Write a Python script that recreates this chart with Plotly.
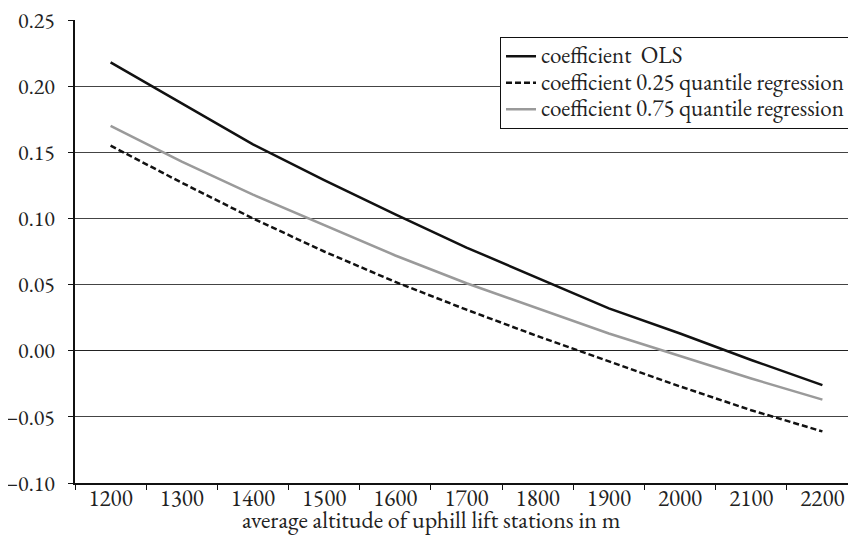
import plotly.graph_objects as go

categories = ["1200", "1300", "1400", "1500", "1600", "1700", "1800", "1900", "2000", "2100", "2200"]
ols = [0.218, 0.187, 0.156, 0.129, 0.103, 0.078, 0.055, 0.032, 0.013, -0.007, -0.026]
q25 = [0.155, 0.127, 0.100, 0.075, 0.052, 0.031, 0.011, -0.008, -0.027, -0.045, -0.061]
q75 = [0.170, 0.143, 0.118, 0.095, 0.072, 0.051, 0.032, 0.013, -0.004, -0.021, -0.037]
series_names = ["coefficient  OLS", "coefficient 0.25 quantile regression", "coefficient 0.75 quantile regression"]
y_ticks = [-0.10, -0.05, 0.00, 0.05, 0.10, 0.15, 0.20, 0.25]
y_tick_labels = ["\u22120.10", "\u22120.05", "0.00", "0.05", "0.10", "0.15", "0.20", "0.25"]

FONT = "EB Garamond"
TXT = "#222222"
y_tick_font = dict(family=FONT, size=22, color=TXT)
x_tick_font = dict(family=FONT, size=23, color=TXT)
title_font = dict(family=FONT, size=24, color=TXT)
legend_font = dict(family=FONT, size=18, color=TXT)
LEGEND_TEXT_PX = 23


def leg(name):
    return '<span style="font-size:%dpx">%s</span>' % (LEGEND_TEXT_PX, name)


fig = go.Figure()
fig.add_trace(go.Scatter(x=categories, y=ols, mode="lines", name=leg(series_names[0]),
                         line=dict(color="#111111", width=2.5)))
fig.add_trace(go.Scatter(x=categories, y=q25, mode="lines", name=leg(series_names[1]),
                         line=dict(color="#111111", width=2.5, dash="6px,3px")))
fig.add_trace(go.Scatter(x=categories, y=q75, mode="lines", name=leg(series_names[2]),
                         line=dict(color="#9a9a9a", width=2.5)))

fig.update_layout(
    width=856, height=543,
    margin=dict(l=67, r=6, t=12, b=68, autoexpand=False),
    paper_bgcolor="white", plot_bgcolor="white",
    font=y_tick_font,
    showlegend=True,
    legend=dict(x=0.9898, y=0.963, xanchor="right", yanchor="top",
                bordercolor="#111111", borderwidth=1, bgcolor="white",
                font=legend_font, tracegroupgap=0),
    xaxis=dict(type="category", range=[-0.5, 10.5], tickson="boundaries",
               ticks="outside", ticklen=5, tickcolor="#111111", tickfont=x_tick_font,
               showline=True, linecolor="#111111", linewidth=1.5,
               showgrid=False, zeroline=False, automargin=False,
               ticklabelstandoff=-6),
    yaxis=dict(range=[-0.10, 0.25], tickvals=y_ticks, ticktext=y_tick_labels,
               ticks="outside", ticklen=5, tickcolor="#111111", tickfont=y_tick_font,
               showline=True, linecolor="#111111", linewidth=1.5,
               showgrid=True, gridcolor="#444444", gridwidth=1,
               zeroline=True, zerolinecolor="#222222", zerolinewidth=1,
               ticklabelstandoff=9, ticklabeloverflow="allow", automargin=False),
    annotations=[dict(text="average altitude of uphill lift stations in m",
                      xref="paper", yref="paper", x=0.455, y=-0.079,
                      xanchor="center", yanchor="middle", showarrow=False,
                      font=title_font)],
)

fig.write_html("out.html")
